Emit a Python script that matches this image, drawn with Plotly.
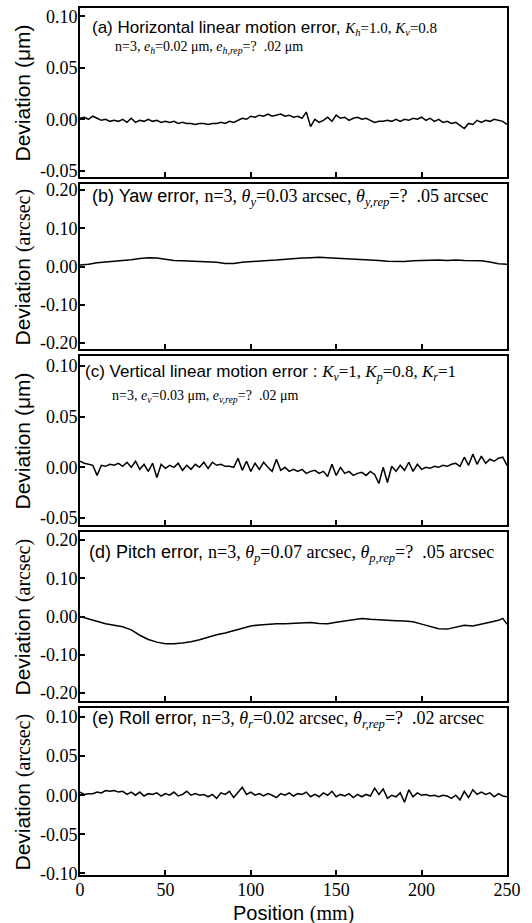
import plotly.graph_objects as go
from plotly.subplots import make_subplots

# ---------------- data ----------------
pos_fine = [0, 2.5, 5, 7.5, 10, 12.5, 15, 17.5, 20, 22.5, 25, 27.5, 30, 32.5, 35, 37.5, 40, 42.5, 45, 47.5,
            50, 52.5, 55, 57.5, 60, 62.5, 65, 67.5, 70, 72.5, 75, 77.5, 80, 82.5, 85, 87.5, 90, 92.5, 95, 97.5,
            100, 102.5, 105, 107.5, 110, 112.5, 115, 117.5, 120, 122.5, 125, 127.5, 130, 132.5, 135, 137.5,
            140, 142.5, 145, 147.5, 150, 152.5, 155, 157.5, 160, 162.5, 165, 167.5, 170, 172.5, 175, 177.5,
            180, 182.5, 185, 187.5, 190, 192.5, 195, 197.5, 200, 202.5, 205, 207.5, 210, 212.5, 215, 217.5,
            220, 222.5, 225, 227.5, 230, 232.5, 235, 237.5, 240, 242.5, 245, 247.5, 250]

pos_coarse = [0, 5, 10, 15, 20, 25, 30, 35, 40, 45, 50, 55, 60, 65, 70, 75, 80, 85, 90, 95, 100, 105, 110,
              115, 120, 125, 130, 135, 140, 145, 150, 155, 160, 165, 170, 175, 180, 185, 190, 195, 200, 205,
              210, 215, 220, 225, 230, 235, 240, 245, 250]

pos_pitch = [0, 5, 10, 15, 20, 25, 30, 35, 40, 45, 50, 55, 60, 65, 70, 75, 80, 85, 90, 95, 100, 105, 110,
             115, 120, 125, 130, 135, 140, 145, 150, 155, 160, 165, 170, 175, 180, 185, 190, 195, 200, 205,
             210, 215, 220, 225, 230, 235, 240, 245, 247.5, 250]

horiz_err = [0.001, 0.002, 0.000, 0.003, 0.001, -0.001, 0.000, -0.002, -0.001, -0.002, 0.000, -0.003, 0.001,
             -0.003, -0.001, -0.002, 0.000, -0.002, -0.001, -0.003, -0.002, -0.003, -0.002, -0.004, -0.003,
             -0.004, -0.004, -0.005, -0.004, -0.004, -0.005, -0.004, -0.004, -0.003, -0.004, -0.002, -0.003,
             -0.001, 0.001, 0.000, 0.003, 0.002, 0.004, 0.003, 0.005, 0.003, 0.004, 0.005, 0.003, 0.004, 0.002,
             0.003, 0.001, 0.007, -0.007, 0.000, -0.003, -0.001, 0.002, -0.002, 0.004, 0.001, 0.002, -0.001,
             0.001, 0.002, 0.000, 0.001, -0.001, -0.003, -0.002, -0.002, -0.001, -0.002, 0.000, -0.002, 0.000,
             -0.001, 0.001, 0.000, 0.002, -0.001, 0.001, -0.002, 0.000, -0.003, -0.002, -0.004, -0.003, -0.006,
             -0.009, -0.004, -0.005, -0.001, -0.003, -0.001, -0.002, 0.000, -0.001, -0.002, -0.005]

yaw_err = [0.004, 0.006, 0.010, 0.012, 0.013, 0.015, 0.018, 0.021, 0.023, 0.022, 0.019, 0.016, 0.015, 0.014,
           0.014, 0.013, 0.011, 0.008, 0.008, 0.011, 0.013, 0.015, 0.016, 0.017, 0.019, 0.020, 0.022, 0.023,
           0.024, 0.023, 0.022, 0.021, 0.020, 0.019, 0.018, 0.016, 0.014, 0.013, 0.013, 0.015, 0.016, 0.016,
           0.017, 0.016, 0.017, 0.016, 0.016, 0.015, 0.012, 0.007, 0.006]

vert_err = [0.006, 0.004, 0.003, 0.002, -0.008, 0.002, 0.001, 0.003, 0.002, 0.004, 0.001, 0.005, 0.000, 0.006,
            -0.002, 0.003, -0.004, 0.004, -0.010, 0.003, -0.001, 0.002, 0.000, 0.004, -0.003, 0.002, -0.002,
            0.003, 0.000, 0.005, -0.001, 0.005, 0.002, 0.003, 0.001, 0.001, 0.000, 0.009, -0.003, 0.006,
            -0.004, 0.004, -0.002, 0.005, 0.000, -0.004, 0.008, -0.003, 0.000, -0.004, -0.002, -0.004, -0.002,
            -0.006, -0.004, -0.003, -0.006, -0.004, -0.009, 0.003, -0.008, 0.000, -0.006, -0.004, -0.008,
            -0.006, -0.005, -0.008, -0.004, -0.007, -0.016, 0.000, -0.015, 0.001, -0.004, 0.002, -0.003, 0.005,
            -0.004, 0.003, -0.002, 0.000, -0.001, 0.001, 0.000, 0.002, 0.001, 0.003, 0.004, 0.001, 0.010, 0.002,
            0.013, 0.003, 0.011, 0.004, 0.008, 0.006, 0.009, 0.010, 0.002]

pitch_err = [0.000, -0.007, -0.013, -0.019, -0.023, -0.027, -0.035, -0.049, -0.060, -0.067, -0.071, -0.071,
             -0.069, -0.066, -0.061, -0.054, -0.048, -0.043, -0.037, -0.030, -0.025, -0.022, -0.020, -0.019,
             -0.019, -0.018, -0.017, -0.016, -0.018, -0.019, -0.015, -0.012, -0.009, -0.005, -0.007, -0.009,
             -0.010, -0.011, -0.012, -0.014, -0.020, -0.027, -0.032, -0.033, -0.028, -0.023, -0.025, -0.021,
             -0.015, -0.010, -0.005, -0.020]

roll_err = [0.004, 0.001, 0.002, 0.002, 0.004, 0.003, 0.006, 0.005, 0.006, 0.004, 0.005, 0.001, 0.004, 0.000,
            0.004, -0.001, 0.002, 0.001, 0.003, -0.001, 0.002, 0.000, 0.004, -0.001, 0.001, 0.005, 0.000, 0.002,
            0.000, 0.001, -0.002, 0.001, -0.004, 0.003, 0.001, 0.005, -0.003, 0.004, 0.010, 0.001, 0.004, 0.000,
            0.002, -0.001, 0.002, 0.000, -0.003, 0.002, 0.000, 0.003, -0.001, 0.002, 0.001, 0.004, -0.002, 0.001,
            -0.002, 0.003, 0.000, 0.005, -0.002, 0.001, -0.001, 0.002, -0.003, 0.001, -0.002, 0.001, -0.001,
            0.009, 0.001, 0.008, -0.004, 0.000, -0.002, 0.003, -0.009, 0.007, -0.002, 0.003, 0.000, 0.001,
            -0.001, 0.000, -0.002, 0.000, -0.001, -0.004, 0.000, -0.006, 0.005, -0.003, 0.007, 0.001, 0.004,
            0.001, 0.003, -0.002, 0.002, -0.001, -0.002]

x_ticks = [0, 50, 100, 150, 200, 250]
x_ticktext = ["0", "50", "100", "150", "200", "250"]
ticks_small = [-0.05, 0.00, 0.05, 0.10]
ticks_small_text = ["-0.05", "0.00", "0.05", "0.10"]
ticks_big = [-0.20, -0.10, 0.00, 0.10, 0.20]
ticks_big_text = ["-0.20", "-0.10", "0.00", "0.10", "0.20"]
ticks_roll = [-0.10, -0.05, 0.00, 0.05, 0.10]
ticks_roll_text = ["-0.10", "-0.05", "0.00", "0.05", "0.10"]

# ---------------- layout constants ----------------
W, H = 532, 923
ML, MR, MT, MB = 80, 25, 8, 48
PW = W - ML - MR
PH = H - MT - MB
BOT = H - MB

SANS = "Liberation Sans, Arial, sans-serif"
SERIF = "Liberation Serif, Times New Roman, serif"

def py2paper(py):
    return (BOT - py) / PH

def px2paper(px):
    return (px - ML) / PW

panels = [
    dict(top=8, bot=177, x=pos_fine, y=horiz_err, rng=[-0.056, 0.108], tv=ticks_small, tt=ticks_small_text, unit="(μm)", userif=False),
    dict(top=184, bot=349, x=pos_coarse, y=yaw_err, rng=[-0.216, 0.216], tv=ticks_big, tt=ticks_big_text, unit="(arcsec)", userif=True),
    dict(top=356, bot=525, x=pos_fine, y=vert_err, rng=[-0.057, 0.110], tv=ticks_small, tt=ticks_small_text, unit="(μm)", userif=False),
    dict(top=532, bot=701, x=pos_pitch, y=pitch_err, rng=[-0.221, 0.221], tv=ticks_big, tt=ticks_big_text, unit="(arcsec)", userif=True),
    dict(top=708, bot=875, x=pos_fine, y=roll_err, rng=[-0.102, 0.1115], tv=ticks_roll, tt=ticks_roll_text, unit="(arcsec)", userif=True),
]

fig = make_subplots(rows=5, cols=1)

axis_common = dict(showline=True, linecolor="black", linewidth=2, mirror=True,
                   ticks="inside", ticklen=5, tickwidth=1.5, tickcolor="black",
                   showgrid=False, zeroline=False, automargin=False, ticklabelstandoff=-3,
                   tickfont=dict(family=SERIF, size=18, color="black"))

annotations = []
for i, p in enumerate(panels):
    r = i + 1
    fig.add_trace(go.Scatter(x=p["x"], y=p["y"], mode="lines",
                             line=dict(color="black", width=1.5), showlegend=False,
                             hoverinfo="skip"), row=r, col=1)
    fig.update_xaxes(range=[0, 250], tickvals=x_ticks, ticktext=x_ticktext,
                     showticklabels=(r == 5), row=r, col=1, **axis_common)
    fig.update_yaxes(range=p["rng"], tickvals=p["tv"], ticktext=p["tt"], row=r, col=1,
                     domain=[py2paper(p["bot"]), py2paper(p["top"])], **axis_common)
    if p["userif"]:
        unit = f'<span style="font-family:{SERIF};font-size:20px">{p["unit"]}</span>'
    else:
        unit = p["unit"]
    annotations.append(dict(text="Deviation " + unit, textangle=-90,
                            x=px2paper(22), y=py2paper((p["top"] + p["bot"]) / 2),
                            xref="paper", yref="paper", xanchor="center", yanchor="middle",
                            showarrow=False, font=dict(family=SANS, size=21, color="black")))

def ser(s, size):
    return f'<span style="font-family:{SERIF};font-size:{size}px">{s}</span>'

labels = [
    ("(a) Horizontal linear motion error, " + ser("<i>K<sub>h</sub></i>=1.0, <i>K<sub>v</sub></i>=0.8", 15), 90, 28, 17),
    (ser("n=3, <i>e<sub>h</sub></i>=0.02 μm, <i>e<sub>h,rep</sub></i>=?&nbsp;&nbsp;.02 μm", 14), 113, 47, 14),
    ("(b) Yaw error, " + ser("n=3, <i>θ<sub>y</sub></i>=0.03 arcsec, <i>θ<sub>y,rep</sub></i>=?&nbsp;&nbsp;.05 arcsec", 18), 90, 197, 18),
    ("(c) Vertical linear motion error : " + ser("<i>K<sub>v</sub></i>=1, <i>K<sub>p</sub></i>=0.8, <i>K<sub>r</sub></i>=1", 17), 83, 373, 17),
    (ser("n=3, <i>e<sub>v</sub></i>=0.03 μm, <i>e<sub>v,rep</sub></i>=?&nbsp;&nbsp;.02 μm", 14), 110, 397, 14),
    ("(d) Pitch error, " + ser("n=3, <i>θ<sub>p</sub></i>=0.07 arcsec, <i>θ<sub>p,rep</sub></i>=?&nbsp;&nbsp;.05 arcsec", 18), 87, 553, 18),
    ("(e) Roll error, " + ser("n=3, <i>θ<sub>r</sub></i>=0.02 arcsec, <i>θ<sub>r,rep</sub></i>=?&nbsp;&nbsp;.02 arcsec", 18), 90, 719, 18),
]
for txt, lx, ly, fs in labels:
    annotations.append(dict(text=txt, x=px2paper(lx), y=py2paper(ly), xref="paper", yref="paper",
                            xanchor="left", yanchor="middle", showarrow=False,
                            font=dict(family=SANS, size=fs, color="black")))

annotations.append(dict(text='Position <span style="font-family:' + SERIF + '">(mm)</span>',
                        x=px2paper(293), y=py2paper(913), xref="paper", yref="paper",
                        xanchor="center", yanchor="middle", showarrow=False,
                        font=dict(family=SANS, size=20, color="black")))

fig.update_layout(width=W, height=H, margin=dict(l=ML, r=MR, t=MT, b=MB, autoexpand=False),
                  paper_bgcolor="white", plot_bgcolor="white",
                  annotations=annotations, showlegend=False)

fig.write_html("out.html", config={"displayModeBar": False},
               post_script="document.body.style.margin='0';document.body.style.overflow='hidden';")
